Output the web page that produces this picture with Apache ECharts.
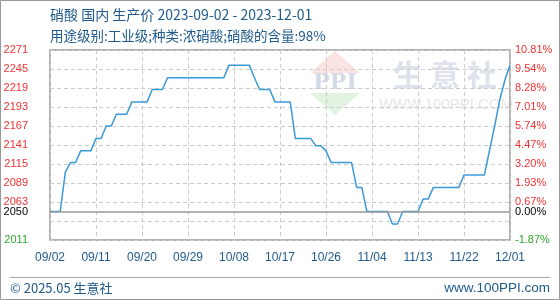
<!DOCTYPE html>
<html><head><meta charset="utf-8">
<script src="https://cdn.jsdelivr.net/npm/echarts@6/dist/echarts.min.js"></script>
<style>html,body{margin:0;padding:0;background:#fff}#c{width:560px;height:300px}</style>
</head><body><div id="c"></div>
<script>
const dates = [
 '09/02','09/03','09/04','09/05','09/06','09/07','09/08','09/09','09/10','09/11','09/12','09/13','09/14','09/15','09/16','09/17','09/18','09/19','09/20','09/21','09/22','09/23','09/24','09/25','09/26','09/27','09/28','09/29','09/30',
 '10/01','10/02','10/03','10/04','10/05','10/06','10/07','10/08','10/09','10/10','10/11','10/12','10/13','10/14','10/15','10/16','10/17','10/18','10/19','10/20','10/21','10/22','10/23','10/24','10/25','10/26','10/27','10/28','10/29','10/30','10/31',
 '11/01','11/02','11/03','11/04','11/05','11/06','11/07','11/08','11/09','11/10','11/11','11/12','11/13','11/14','11/15','11/16','11/17','11/18','11/19','11/20','11/21','11/22','11/23','11/24','11/25','11/26','11/27','11/28','11/29','11/30',
 '12/01'
];
const prices = [
 2050,2050,2050,2104,2117,2117,2133,2133,2133,2150,
 2150,2167,2167,2183,2183,2183,2200,2200,2200,2200,
 2217,2217,2217,2233,2233,2233,2233,2233,2233,2233,
 2233,2233,2233,2233,2233,2250,2250,2250,2250,2250,
 2233,2217,2217,2217,2200,2200,2200,2200,2150,2150,
 2150,2150,2140,2140,2133,2117,2117,2117,2117,2117,
 2083,2083,2050,2050,2050,2050,2050,2033,2033,2050,
 2050,2050,2050,2067,2067,2083,2083,2083,2083,2083,
 2083,2100,2100,2100,2100,2100,2134,2167,2203,2230,
 2250
];
const gridValues = [2011,2037,2063,2089,2115,2141,2167,2193,2219,2245,2271];
const leftLabels = [2271,2245,2219,2193,2167,2141,2115,2089,2063,2050,2011];
const rightLabels = ['10.81%','9.54%','8.28%','7.01%','5.74%','4.47%','3.20%','1.93%','0.67%','0.00%','-1.87%'];
const baseValue = 2050;
const titleText = '硝酸 国内 生产价 2023-09-02 - 2023-12-01';
const subText = '用途级别:工业级;种类:浓硝酸;硝酸的含量:98%';
const footLeft = '© 2025.05 生意社';
const footRight = 'www.100PPI.com';

const pctMap = {};
leftLabels.forEach((v, i) => { pctMap[v] = rightLabels[i]; });
function labColor(v) {
  v = Number(v);
  if (v > baseValue) return '#f03232';
  if (v < baseValue) return '#2ea62e';
  return '#000';
}
const blue = '#1e5a8c';
const chart = echarts.init(document.getElementById('c'));
chart.setOption({
  animation: false,
  grid: { left: 50, right: 50, top: 50, bottom: 60, show: true, borderColor: '#999', borderWidth: 1.5 },
  xAxis: {
    type: 'category', data: dates, boundaryGap: false,
    axisLine: { show: false }, axisTick: { show: false },
    axisLabel: { interval: 8, color: blue, fontSize: 12, margin: 12, fontFamily: 'Liberation Sans' },
    splitLine: { show: true, interval: 8, lineStyle: { color: '#ccc', type: [4, 3], width: 1 } }
  },
  yAxis: [{
    type: 'value', min: 2011, max: 2271, position: 'left',
    axisLine: { show: false },
    axisTick: { show: false, customValues: gridValues },
    axisLabel: { customValues: leftLabels, margin: 22, fontSize: 11, fontFamily: 'Liberation Sans',
      formatter: (v) => String(v), color: (v) => labColor(v) },
    splitLine: { show: true, lineStyle: { color: '#ccc', type: [4, 3], width: 1 } }
  }, {
    type: 'value', min: 2011, max: 2271, position: 'right',
    axisLine: { show: false },
    axisTick: { show: false, customValues: gridValues },
    axisLabel: { customValues: leftLabels, margin: 5, fontSize: 11, fontFamily: 'Liberation Sans',
      formatter: (v) => pctMap[v], color: (v) => labColor(v) },
    splitLine: { show: false }
  }],
  graphic: [
    { type: 'rect', shape: { x: 0.5, y: 0.5, width: 559, height: 299 }, style: { fill: null, stroke: '#999', lineWidth: 1 }, z: -20 },
    { type: 'text', left: 50, top: 8, style: { text: titleText, fill: blue, font: '14px "Noto Sans CJK SC"' } },
    { type: 'text', left: 50, top: 29, style: { text: subText, fill: blue, font: '13.5px "Noto Sans CJK SC"' } },
    { type: 'polygon', shape: { points: [[335, 51], [310, 73], [360, 73]] }, style: { fill: '#fbe3e3' }, z: -10 },
    { type: 'polygon', shape: { points: [[310, 93], [360, 93], [335, 115]] }, style: { fill: '#e2f3e2' }, z: -10 },
    { type: 'text', x: 335, y: 83, style: { text: 'PPI', fill: '#d3dae8', font: 'bold 22px "DejaVu Serif"', align: 'center', verticalAlign: 'middle' }, z: -10 },
    { type: 'text', x: 445, y: 75, style: { text: '生 意 社', fill: '#dde2ec', font: 'bold 30px "Noto Sans CJK SC"', align: 'center', verticalAlign: 'middle' }, z: -10 },
    { type: 'text', x: 446, y: 105, style: { text: 'WWW.100PPI.COM', fill: '#e6e6e6', font: '15px "Liberation Sans"', align: 'center', verticalAlign: 'middle' }, z: -10 },
    { type: 'line', shape: { x1: 10, y1: 277.5, x2: 550, y2: 277.5 }, style: { stroke: '#aaa', lineWidth: 1 } },
    { type: 'text', x: 10, y: 288, style: { text: footLeft, fill: blue, font: '13px "Noto Sans CJK SC"', verticalAlign: 'middle' } },
    { type: 'text', x: 550, y: 288, style: { text: footRight, fill: blue, font: '13.5px "Liberation Sans"', align: 'right', verticalAlign: 'middle' } }
  ],
  series: [{
    type: 'line', data: prices, yAxisIndex: 0, showSymbol: false, symbol: 'none',
    lineStyle: { color: '#3a9ad9', width: 1.5 },
    markLine: { silent: true, symbol: 'none', label: { show: false },
      lineStyle: { color: '#999', type: 'solid', width: 1.5 },
      data: [{ yAxis: baseValue }] }
  }]
});
</script></body></html>
